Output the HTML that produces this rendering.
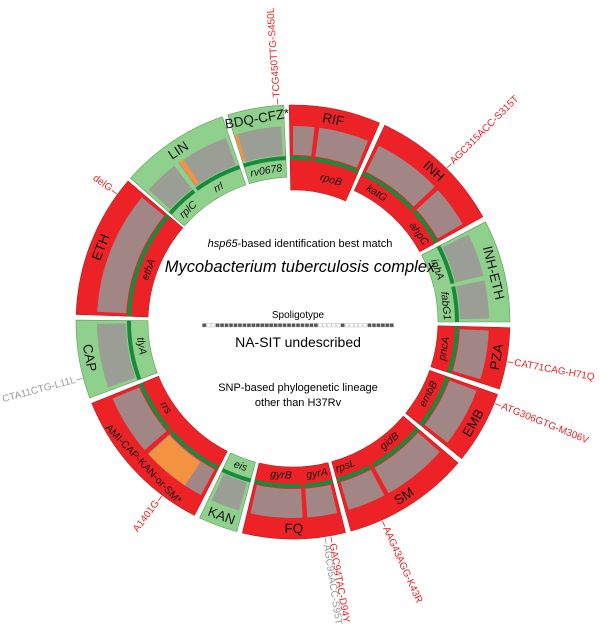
<!DOCTYPE html>
<html><head><meta charset="utf-8"><style>
html,body{margin:0;padding:0;background:#fff;}
svg{display:block;font-family:"Liberation Sans",sans-serif;}
</style></head><body>
<svg id="c" width="600" height="643" viewBox="0 0 600 643">
<g id="ring"></g>
<g id="center">
<text x="300" y="247" text-anchor="middle" font-size="11"><tspan font-style="italic">hsp65</tspan>-based identification best match</text>
<text x="300" y="272" text-anchor="middle" font-size="16.5" font-style="italic">Mycobacterium tuberculosis complex</text>
<text x="298" y="318" text-anchor="middle" font-size="10">Spoligotype</text>
<g id="spol"></g>
<text x="298" y="347" text-anchor="middle" font-size="14">NA-SIT undescribed</text>
<text x="298" y="391" text-anchor="middle" font-size="11">SNP-based phylogenetic lineage</text>
<text x="298" y="406" text-anchor="middle" font-size="11">other than H37Rv</text>
</g>
</svg>
<script>
const drugs=["RIF","INH","INH-ETH","PZA","EMB","SM","FQ","KAN","AMI-CAP-KAN-or-SM*","CAP","ETH","LIN","BDQ-CFZ*"];
const starts=[-1,25,62.5,91.5,109.5,130.5,166,195,207,249.5,272,311.5,342.5];
const ends=[23.5,61,90,108,129,164.5,193.5,205.5,248,270.5,310.5,341,357.5];
const resistant=[1,1,0,1,1,1,1,0,1,0,1,0,0];
const dividers=[[7],[47],[77],[],[],[151.5],[176.5],[],[228.5],[],[],[323.5],[]];
const genes=[["rpoB"],["katG","ahpC"],["inhA","fabG1"],["pncA"],["embB"],["rpsL","gidB"],["gyrA","gyrB"],["eis"],["rrs"],["tlyA"],["ethA"],["rplC","rrl"],["rv0678"]];
const geneAngles=[[15],[33,55],[70,84],[100],[118],[160,141],[171,184.5],[200],[236],[261],[290],[317,331],[350]];
const orangeSpans=[[213.5,227.5],[324.5,326],[342.7,343.6]];
const mutTexts=["TCG450TTG-S450L","AGC315ACC-S315T","CAT71CAG-H71Q","ATG306GTG-M306V","AAG43AGG-K43R","GAC94TAC-D94Y","AGC95ACC-S95T","A1401G","CTA11CTG-L11L","delG"];
const mutAngles=[-4,45,100.5,112,155.8,170,171.5,217,255,306];
const mutWild=[0,0,0,0,0,0,1,0,1,0];
const spoligo="1001111111111111111111111100000100000111111";

const cx=293,cy=322,R=217,rGrayOut=196,rGrayIn=167,rLineOut=166,rLineIn=162;
const NS="http://www.w3.org/2000/svg";
const ring=document.getElementById('ring');
function P(r,a){const t=a*Math.PI/180;return [cx+r*Math.sin(t),cy-r*Math.cos(t)];}
function arc(r1,r2,a1,a2){const p1=P(r2,a1),p2=P(r2,a2),p3=P(r1,a2),p4=P(r1,a1);const l=(a2-a1)>180?1:0;
return `M${p1[0]},${p1[1]}A${r2},${r2} 0 ${l} 1 ${p2[0]},${p2[1]}L${p3[0]},${p3[1]}A${r1},${r1} 0 ${l} 0 ${p4[0]},${p4[1]}Z`;}
function path(d,fill,stroke,sw){const e=document.createElementNS(NS,'path');e.setAttribute('d',d);e.setAttribute('fill',fill);if(stroke){e.setAttribute('stroke',stroke);e.setAttribute('stroke-width',sw);}ring.appendChild(e);return e;}
function txt(s,x,y,rot,size,opts){const e=document.createElementNS(NS,'text');e.setAttribute('x',x);e.setAttribute('y',y);e.setAttribute('font-size',size);e.setAttribute('transform',`rotate(${rot} ${x} ${y})`);e.setAttribute('text-anchor',opts.anchor||'middle');e.setAttribute('dominant-baseline','central');if(opts.italic)e.setAttribute('font-style','italic');e.setAttribute('fill',opts.fill||'#111');e.textContent=s;ring.appendChild(e);return e;}
function rotFor(a){let n=((a%360)+360)%360;return (n>90&&n<270)?n-180:n;}

drugs.forEach((d,i)=>{
 const a1=starts[i],a2=ends[i],res=resistant[i];
 const rIn=(i===0)?132:145;
 const main=res?'#ec2227':'#8fd08c',grey=res?'#a28686':'#9b9e95',edge=res?'#b51c1f':'#5d9a5a';
 const s=path(arc(rIn,R,a1,a2),main,edge,0.6);
 
 
 const l=path(arc(rLineIn,rLineOut,a1,a2),'#178a3c');
 
 
 const bounds=[a1+1,...dividers[i].flatMap(v=>[v-0.7,v+0.7]),a2-1];
 for(let k=0;k<bounds.length;k+=2){
  const g=path(arc(rGrayIn,rGrayOut,bounds[k],bounds[k+1]),grey);
  
  
 }
 dividers[i].forEach(v=>{const a=P(rIn,v),b=P(rGrayOut,v);const e=document.createElementNS(NS,'line');e.setAttribute('x1',a[0]);e.setAttribute('y1',a[1]);e.setAttribute('x2',b[0]);e.setAttribute('y2',b[1]);e.setAttribute('stroke',main);e.setAttribute('stroke-width',3);
  
  
  ring.appendChild(e);});
 const la=(a1+a2)/2+(i===8?-1:0),lp=P(206.5,la);
 const t=txt(d,lp[0],lp[1],rotFor(la),i===8?10.5:13.5,{});
 
 
 genes[i].forEach((g,k)=>{const ga=geneAngles[i][k],gp=P((rIn+rLineIn)/2,ga);
  const gt=txt(g,gp[0],gp[1],rotFor(ga),10.5,{italic:1});
  
  });
});
orangeSpans.forEach(o=>{const e=path(arc(rGrayIn+1,rGrayOut,o[0],o[1]),'#f39240');
 
 });
mutTexts.forEach((m,i)=>{
 const a=mutAngles[i],col=mutWild[i]?'#999':'#ec2227';
 const p1=P(R+1,a),p2=P(R+7,a);
 const ln=document.createElementNS(NS,'line');ln.setAttribute('x1',p1[0]);ln.setAttribute('y1',p1[1]);ln.setAttribute('x2',p2[0]);ln.setAttribute('y2',p2[1]);ln.setAttribute('stroke',col);ln.setAttribute('stroke-width',0.8);
 
 
 ring.appendChild(ln);
 const n=((a%360)+360)%360,right=(n<180)||n>350;
 const p=P(R+8,a);
 const t=txt(m,p[0],p[1],right?a-90:a-270,10,{anchor:right?'start':'end',fill:col});
 
 
});
const sp=document.getElementById('spol');
const x0=202,w=(394-202)/spoligo.length;
for(let k=0;k<spoligo.length;k++){const r=document.createElementNS(NS,'rect');r.setAttribute('x',x0+k*w+0.4);r.setAttribute('y',323.5);r.setAttribute('width',w-0.8);r.setAttribute('height',3.5);
 r.setAttribute('fill',spoligo[k]==='1'?'#555':'#fff');r.setAttribute('stroke','#aaa');r.setAttribute('stroke-width',0.4);
 
 
 sp.appendChild(r);}
</script>
</body></html>
